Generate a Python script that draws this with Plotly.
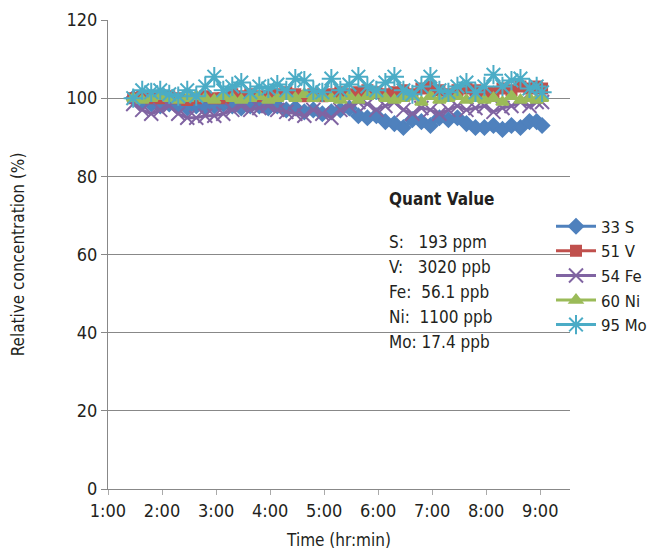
import plotly.graph_objects as go

times = ["1:28","1:38","1:48","1:58","2:08","2:18","2:28","2:38","2:48","2:58",
         "3:08","3:18","3:28","3:38","3:48","3:58","4:08","4:18","4:28","4:38",
         "4:48","4:58","5:08","5:18","5:28","5:38","5:48","5:58","6:08","6:18",
         "6:28","6:38","6:48","6:58","7:08","7:18","7:28","7:38","7:48","7:58",
         "8:08","8:18","8:28","8:38","8:48","8:56","9:02"]

s33 = [100,99,98.5,98,98.5,98,97.5,98,97.5,98,98.5,98,97.5,98,98,97.5,98,97,97.5,96.5,
       97,96,96.5,97,97.5,95.5,95,95.5,94,93.5,92.5,94.5,94,93,95,94.5,95,93.5,92.5,92.5,
       93,92,93,92.5,94,94,93]
v51 = [100,100.5,100,100,100.5,100,99.5,100,100.5,100,100,101,100.5,101,100.5,100.5,101,101.5,101,100.5,
       101,100.5,101,101.5,101,101.5,102,101.5,101,101.5,102,101,102.5,103,102,101,102,102.5,102,101,
       101.5,102.5,102,103,102.5,103,102.5]
fe54 = [98.5,97,96,97,98,96,95,95,95.5,95.5,96,97,98,97,97.5,98,97,96.5,96,95.5,
        97,96,95,97,98,99,98.5,97,98,99,97,96,97.5,97,96,97,98,97,97.5,98,
        96.5,97.5,98,99,98,99,99]
ni60 = [100,99.5,100,100.5,100,99.5,100,100.5,100,99.5,100.5,100,99.5,100,100.5,99.5,100,100.5,100,101,
        100,100.5,100,99.5,100.5,99.5,100.5,101,100,99.5,100,100.5,99,100.5,99.5,100,100.5,99.5,100,99.5,
        100,99,100.5,99.5,100,99.5,100]
mo95 = [100,102,101.5,102,101,100.5,102,100.5,103,105.5,102,103,104,101.5,103,102.5,103.5,102,105,104.5,
        102,101.5,105,102,103.5,105.5,103,102,104,105.5,102,101,103,105.5,102,101.5,103,104,101.5,103,
        106,103,104.5,105,102.5,103,101.5]

series_names = ["33 S", "51 V", "54 Fe", "60 Ni", "95 Mo"]
series_vals = [s33, v51, fe54, ni60, mo95]
colors = ["#4F81BD", "#C0504D", "#8064A2", "#9BBB59", "#4BACC6"]
symbols = ["diamond", "square", "x-thin-open", "triangle-up", "asterisk-open"]
sizes = [11, 10, 14, 11, 16]

tick_hours = [1, 2, 3, 4, 5, 6, 7, 8, 9]
tick_labels = ["1:00", "2:00", "3:00", "4:00", "5:00", "6:00", "7:00", "8:00", "9:00"]

quant_title = "Quant Value"
quant_lines = ["S:   193 ppm", "V:   3020 ppb", "Fe:  56.1 ppb", "Ni:  1100 ppb", "Mo: 17.4 ppb"]

def to_hours(t):
    h, m = t.split(":")
    return int(h) + int(m) / 60.0

x = [to_hours(t) for t in times]

FONT = "DejaVu Sans Condensed, Roboto Condensed, Liberation Sans Narrow, Roboto, Arial"

# page has an 8px body margin; figure is sized to fit the 657x550 window
OFF = 8
W, H = 657 - OFF, 550 - OFF
# plot area in screen pixels: x 108..570, y 20..489
L, R, T, B = 108 - OFF, 657 - 570, 20 - OFF, 550 - 489
pw, ph = W - L - R, H - T - B

def px(xs):
    return (xs - OFF - L) / pw

def py(ys):
    return (H - B - (ys - OFF)) / ph

fig = go.Figure()
for name, vals, c, sym, sz in zip(series_names, series_vals, colors, symbols, sizes):
    fig.add_trace(go.Scatter(
        x=x, y=vals, name=name, mode="lines+markers",
        line=dict(color=c, width=3),
        marker=dict(symbol=sym, size=sz, color=c, line=dict(color=c, width=2)),
    ))

fig.add_annotation(x=px(387), y=py(199), xref="paper", yref="paper",
                   text="<b>" + quant_title + "</b>",
                   showarrow=False, xanchor="left", yanchor="middle",
                   font=dict(family=FONT, size=17, color="#231F20"))
for i, line in enumerate(quant_lines):
    fig.add_annotation(x=px(387), y=py(242 + 25 * i), xref="paper", yref="paper",
                       text=line.replace("  ", "&nbsp;&nbsp;"), showarrow=False,
                       xanchor="left", yanchor="middle",
                       font=dict(family=FONT, size=17, color="#231F20"))

fig.update_layout(
    width=W, height=H,
    margin=dict(l=L, r=R, t=T, b=B, autoexpand=False),
    paper_bgcolor="white", plot_bgcolor="white",
    font=dict(family=FONT, size=17, color="#231F20"),
    showlegend=True,
    legend=dict(x=px(551), y=py(209), xanchor="left", yanchor="top",
                bgcolor="rgba(0,0,0,0)", font=dict(family=FONT, size=16.6),
                tracegroupgap=0, itemwidth=40),
    xaxis=dict(range=[1, 9 + 33 / 60], tickvals=tick_hours, ticktext=tick_labels,
               showgrid=False, zeroline=False, showline=True, linecolor="#888888", linewidth=1,
               ticks="outside", ticklen=5, tickcolor="#AAAAAA",
               title=dict(text="Time (hr:min)", font=dict(family=FONT, size=17), standoff=15),
               tickfont=dict(family=FONT, size=18), automargin=False),
    yaxis=dict(range=[0, 120], tickvals=[0, 20, 40, 60, 80, 100, 120],
               showgrid=True, gridcolor="#888888", gridwidth=1, zeroline=False,
               showline=True, linecolor="#888888", linewidth=1,
               ticks="outside", ticklen=6, tickcolor="#888888",
               title=dict(text="Relative concentration (%)", font=dict(family=FONT, size=17), standoff=42),
               tickfont=dict(family=FONT, size=18), automargin=False),
)

fig.write_html("out.html")
